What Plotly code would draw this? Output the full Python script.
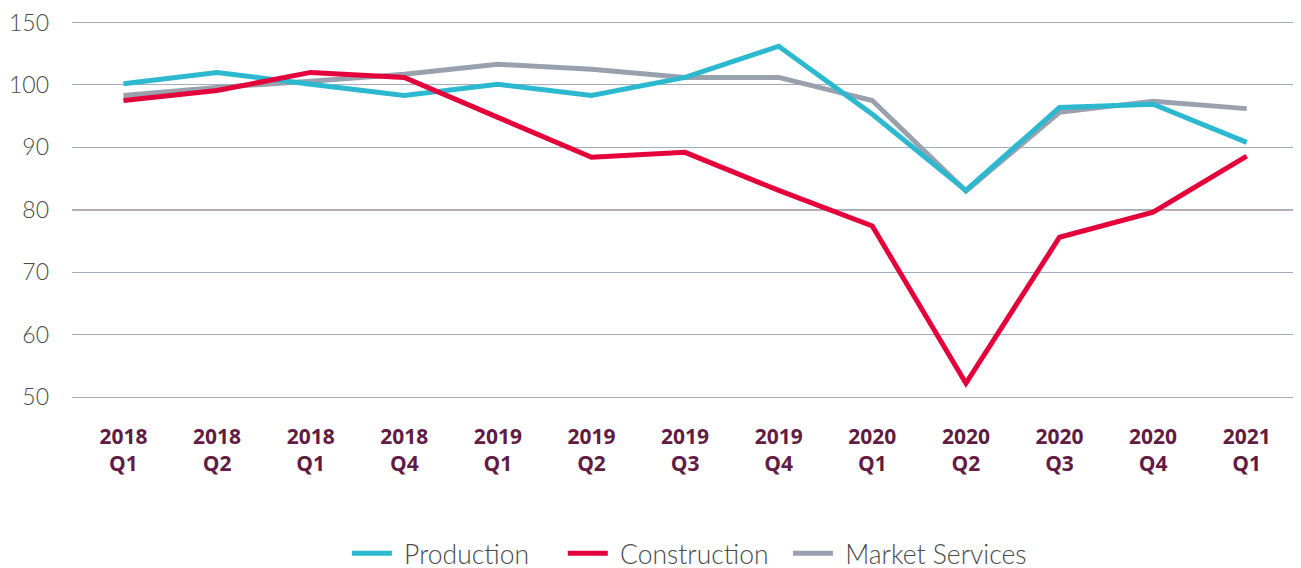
import plotly.graph_objects as go

# quarter labels as printed on the chart (the third one really says "2018 Q1")
quarters = ["2018<br>Q1", "2018<br>Q2", "2018<br>Q1", "2018<br>Q4", "2019<br>Q1", "2019<br>Q2",
            "2019<br>Q3", "2019<br>Q4", "2020<br>Q1", "2020<br>Q2", "2020<br>Q3", "2020<br>Q4", "2021<br>Q1"]

production = [100.2, 102.0, 100.1, 98.3, 100.1, 98.3, 101.2, 106.2, 95.3, 83.1, 96.4, 96.9, 90.8]
construction = [97.5, 99.1, 102.0, 101.2, 94.8, 88.4, 89.2, 83.1, 77.4, 52.2, 75.6, 79.6, 88.6]
market_services = [98.3, 99.6, 100.6, 101.7, 103.3, 102.5, 101.2, 101.2, 97.5, 83.0, 95.6, 97.4, 96.2]

# y tick labels as printed (top line is labelled 150)
y_tickvals = [50, 60, 70, 80, 90, 100, 110]
y_ticktext = ["50", "60", "70", "80", "90", "100", "150"]

x = list(range(len(quarters)))
sp = "\u00a0"

fig = go.Figure()
fig.add_trace(go.Scatter(x=x, y=market_services, mode="lines", name=sp + "Market Services",
                         line=dict(color="#9aa1ae", width=5), legendrank=3))
fig.add_trace(go.Scatter(x=x, y=production, mode="lines", name=sp + "Production" + sp * 4,
                         line=dict(color="#2cb9cf", width=5), legendrank=1))
fig.add_trace(go.Scatter(x=x, y=construction, mode="lines", name=sp + "Construction" + sp * 2,
                         line=dict(color="#e4003b", width=5), legendrank=2))

# darker line at 80
fig.add_shape(type="line", xref="paper", yref="y", x0=0, x1=1, y0=80, y1=80,
              line=dict(color="#8f5f78", width=1.5), layer="below")

# the page body has an 8px margin, so the figure is 8px smaller and shifted
fig.update_layout(
    width=1293, height=560,
    margin=dict(l=64, r=0, t=1.5, b=146),
    plot_bgcolor="white", paper_bgcolor="white",
    showlegend=True,
    legend=dict(orientation="h", x=0.527, xanchor="center", xref="container",
                y=0.026, yanchor="middle", yref="container",
                font=dict(family="Lato", size=26.5, color="#4a4a4a", weight=300),
                traceorder="normal", itemwidth=40),
)
fig.update_xaxes(range=[-0.55, 12.58], tickvals=x, ticktext=["<b>" + q + "</b>" for q in quarters],
                 showgrid=False, zeroline=False, showline=False, ticks="", automargin=False,
                 tickfont=dict(family="Open Sans", size=21, color="#621b43"))
fig.update_yaxes(range=[46, 112], tickvals=y_tickvals, ticktext=y_ticktext,
                 showgrid=True, gridcolor="#a3abbf", gridwidth=1, zeroline=False, showline=False,
                 ticks="", ticklabelstandoff=22, automargin=False, ticklabeloverflow="allow",
                 tickfont=dict(family="Lato", size=23, color="#4a4a4a", weight=300))

fig.write_html("out.html")
